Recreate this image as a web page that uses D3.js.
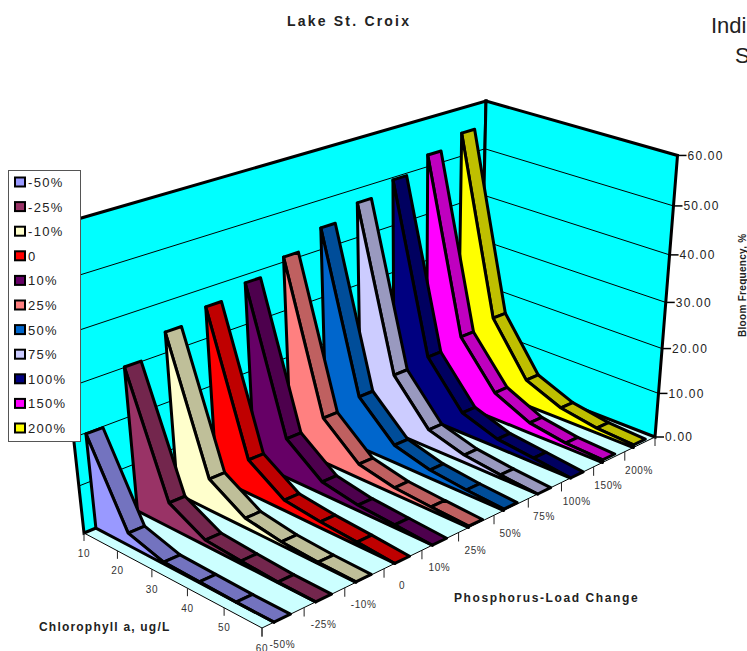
<!DOCTYPE html>
<html>
<head>
<meta charset="utf-8">
<style>
html, body { margin: 0; padding: 0; background: #fff; overflow: hidden; }
text { font-family: "Liberation Sans", Arial, sans-serif; fill: #222; }
.title { font-weight: bold; font-size: 14px; letter-spacing: 2.2px; }
.axisTitle { font-weight: bold; font-size: 12px; }
.value { font-size: 12px; letter-spacing: 1.2px; }
.cat { font-size: 10px; letter-spacing: .6px; fill: #333; }
.legendText { font-size: 13px; letter-spacing: 1.3px; }
</style>
</head>
<body>
<svg id="chart" width="747" height="651"></svg>
<script src="https://cdn.jsdelivr.net/npm/d3@7"></script>
<script>
let chlLabels = ["10", "20", "30", "40", "50", "60"];
let loadLabels = ["-50%", "-25%", "-10%", "0", "10%", "25%", "50%", "75%", "100%", "150%", "200%"];
let valueTicks = [0, 10, 20, 30, 40, 50, 60];

let loadMinus50 = [19.8, 2.7, 0.4, 0.2, 0.0, 0.0];
let loadMinus25 = [30.1, 5.4, 1.2, 0.6, 0.1, 0.0];
let loadMinus10 = [34.1, 6.9, 2.1, 0.8, 0.3, 0.1];
let load0 = [36.3, 7.5, 2.3, 1.3, 0.7, 0.0];
let load10 = [38.4, 8.7, 2.7, 1.2, 0.6, 0.0];
let load25 = [41.0, 9.9, 3.1, 1.4, 0.8, 0.3];
let load50 = [44.4, 11.4, 3.9, 1.8, 0.9, 0.3];
let load75 = [47.1, 13.1, 4.0, 1.7, 0.7, 0.0];
let load100 = [49.5, 14.1, 4.6, 1.9, 1.0, 0.0];
let load150 = [52.4, 15.7, 6.0, 2.3, 1.0, 0.6];
let load200 = [54.8, 17.1, 5.8, 2.5, 1.1, 0.6];
let seriesValues = [loadMinus50, loadMinus25, loadMinus10, load0, load10, load25, load50, load75, load100, load150, load200];

let faceColors = ["#9999FF", "#993366", "#FFFFCC", "#FF0000", "#660066", "#FF8080", "#0066CC", "#CCCCFF", "#000080", "#FF00FF", "#FFFF00"];

// scales go to the unit cube, project() puts the cube on the page
let chlScale = d3.scalePoint().domain(chlLabels).range([0, 1]);
let loadScale = d3.scaleBand().domain(loadLabels).range([0, 1]);
let valueScale = d3.scaleLinear().domain([0, 60]).range([0, 1]);

// floor corners on the page and the point the vertical edges run to
let A = [84, 533], B = [262, 628], C = [655, 437], D = [480, 369], V = [410, 3500];
let dx1 = B[0] - C[0], dx2 = D[0] - C[0], sx = A[0] - B[0] + C[0] - D[0];
let dy1 = B[1] - C[1], dy2 = D[1] - C[1], sy = A[1] - B[1] + C[1] - D[1];
let den = dx1 * dy2 - dx2 * dy1;
let pg = (sx * dy2 - dx2 * sy) / den;
let ph = (dx1 * sy - sx * dy1) / den;
let pa = B[0] - A[0] + pg * B[0], pb = D[0] - A[0] + ph * D[0];
let pd = B[1] - A[1] + pg * B[1], pe = D[1] - A[1] + ph * D[1];
let ps = (101 * (ph + 1) - (pe + A[1])) / (V[1] - 101);

function project(u, v, t) {
    let w = pg * u + ph * v + 1 + ps * t;
    return [(pa * u + pb * v + A[0] + ps * t * V[0]) / w, (pd * u + pe * v + A[1] + ps * t * V[1]) / w];
}

let poly = d3.line();
function closed(points) {
    return poly(points) + "Z";
}

let svg = d3.select("#chart");

// walls and floor
let wallTop = valueScale(60);
svg.append("path").attr("d", closed([project(0, 0, 0), project(1, 0, 0), project(1, 1, 0), project(0, 1, 0)]))
    .attr("fill", "#CCFFFF").attr("stroke", "#000").attr("stroke-width", 1);
svg.append("path").attr("d", closed([project(0, 0, 0), project(0, 1, 0), project(0, 1, wallTop), project(0, 0, wallTop)]))
    .attr("fill", "#00FFFF").attr("stroke", "#000").attr("stroke-width", 3);
svg.append("path").attr("d", closed([project(0, 1, 0), project(1, 1, 0), project(1, 1, wallTop), project(0, 1, wallTop)]))
    .attr("fill", "#00FFFF").attr("stroke", "#000").attr("stroke-width", 3);

svg.selectAll(".grid").data(valueTicks.slice(1, -1)).enter().append("path")
    .attr("class", "grid")
    .attr("d", function (d) {
        let t = valueScale(d);
        return poly([project(0, 0, t), project(0, 1, t), project(1, 1, t)]);
    })
    .attr("fill", "none").attr("stroke", "#000").attr("stroke-width", 1);

// value axis on the right wall
let valueAxis = svg.selectAll(".valueTick").data(valueTicks).enter().append("g").attr("class", "valueTick")
    .attr("transform", function (d) {
        return "translate(" + project(1, 1, valueScale(d)) + ")";
    });
valueAxis.append("line").attr("x1", 0).attr("x2", 9).attr("stroke", "#000").attr("stroke-width", 1.5);
valueAxis.append("text").attr("class", "value").attr("x", 10).attr("dy", ".35em").text(d3.format(".2f"));

// floor ticks
svg.selectAll(".loadTick").data(d3.range(loadLabels.length + 1)).enter().append("line").attr("class", "loadTick")
    .each(function (i) {
        let p = project(1, i / loadLabels.length, 0);
        d3.select(this).attr("x1", p[0]).attr("x2", p[0]).attr("y1", p[1]).attr("y2", p[1] + 9);
    })
    .attr("stroke", "#222").attr("stroke-width", 1);
svg.selectAll(".chlTick").data(chlLabels).enter().append("line").attr("class", "chlTick")
    .each(function (d) {
        let p = project(chlScale(d), 0, 0);
        d3.select(this).attr("x1", p[0]).attr("x2", p[0]).attr("y1", p[1]).attr("y2", p[1] + 8);
    })
    .attr("stroke", "#222").attr("stroke-width", 1);

svg.selectAll(".chlLabel").data(chlLabels).enter().append("text").attr("class", "cat")
    .attr("text-anchor", "middle").attr("dy", ".35em")
    .attr("transform", function (d) {
        let p = project(chlScale(d), 0, 0);
        return "translate(" + p[0] + "," + (p[1] + 20) + ")";
    })
    .text(function (d) { return d; });

svg.selectAll(".loadLabel").data(loadLabels).enter().append("text").attr("class", "cat")
    .attr("text-anchor", "middle").attr("dy", ".35em")
    .attr("transform", function (d) {
        let p = project(1, loadScale(d) + loadScale.bandwidth() / 2, 0);
        return "translate(" + (p[0] - 1) + "," + (p[1] + 26.5) + ")";
    })
    .text(function (d) { return d; });

// ribbons, back one first
let ribbonFront = 0.28, ribbonBack = 0.67;
let order = d3.range(seriesValues.length).reverse();
let ribbons = svg.selectAll(".ribbon").data(order).enter().append("g").attr("class", "ribbon");

ribbons.each(function (s) {
    let g = d3.select(this);
    let vals = seriesValues[s];
    let v0 = loadScale(loadLabels[s]) + loadScale.bandwidth() * ribbonFront;
    let v1 = loadScale(loadLabels[s]) + loadScale.bandwidth() * ribbonBack;
    let topFill = d3.rgb(faceColors[s]);
    topFill = d3.rgb(topFill.r * .75, topFill.g * .75, topFill.b * .75);

    g.selectAll(".top").data(d3.range(chlLabels.length - 1)).enter().append("path")
        .attr("d", function (k) {
            let u0 = chlScale(chlLabels[k]), u1 = chlScale(chlLabels[k + 1]);
            let t0 = valueScale(vals[k]), t1 = valueScale(vals[k + 1]);
            return closed([project(u0, v0, t0), project(u1, v0, t1), project(u1, v1, t1), project(u0, v1, t0)]);
        })
        .attr("fill", topFill).attr("stroke", "#000").attr("stroke-width", 3).attr("stroke-linejoin", "round");

    let upper = chlLabels.map(function (c, k) { return project(chlScale(c), v0, valueScale(vals[k])); });
    let lower = chlLabels.map(function (c) { return project(chlScale(c), v0, 0); }).reverse();
    g.append("path").attr("d", closed(upper.concat(lower)))
        .attr("fill", faceColors[s]).attr("stroke", "#000").attr("stroke-width", 3).attr("stroke-linejoin", "round");
});

// titles
svg.append("text").attr("class", "title").attr("x", 287).attr("y", 26).text("Lake St. Croix");
svg.append("text").attr("class", "axisTitle").attr("x", 454).attr("y", 602).style("letter-spacing", "1.6px").text("Phosphorus-Load Change");
svg.append("text").attr("class", "axisTitle").attr("x", 39).attr("y", 631).style("letter-spacing", "1.2px").text("Chlorophyll a, ug/L");
svg.append("text").attr("class", "axisTitle").attr("transform", "translate(746,337) rotate(-90)")
    .style("font-size", "10px").style("letter-spacing", ".3px").text("Bloom Frequency, %");
svg.append("text").attr("x", 711).attr("y", 33).style("font-size", "22px").text("Indi");
svg.append("text").attr("x", 735).attr("y", 63).style("font-size", "22px").text("S");

// legend
let legendY = d3.scalePoint().domain(loadLabels).range([182, 428]);
svg.append("rect").attr("x", 8.5).attr("y", 170.5).attr("width", 72).attr("height", 271)
    .attr("fill", "#fff").attr("stroke", "#555").attr("stroke-width", 1);
let legend = svg.selectAll(".legendItem").data(loadLabels).enter().append("g").attr("class", "legendItem")
    .attr("transform", function (d) {
        return "translate(0," + legendY(d) + ")";
    });
legend.append("rect").attr("x", 15).attr("y", -4.5).attr("width", 10).attr("height", 9)
    .attr("fill", function (d, i) { return faceColors[i]; })
    .attr("stroke", "#000").attr("stroke-width", 2);
legend.append("text").attr("class", "legendText").attr("x", 28).attr("dy", ".38em")
    .text(function (d) { return d; });
</script>
</body>
</html>
